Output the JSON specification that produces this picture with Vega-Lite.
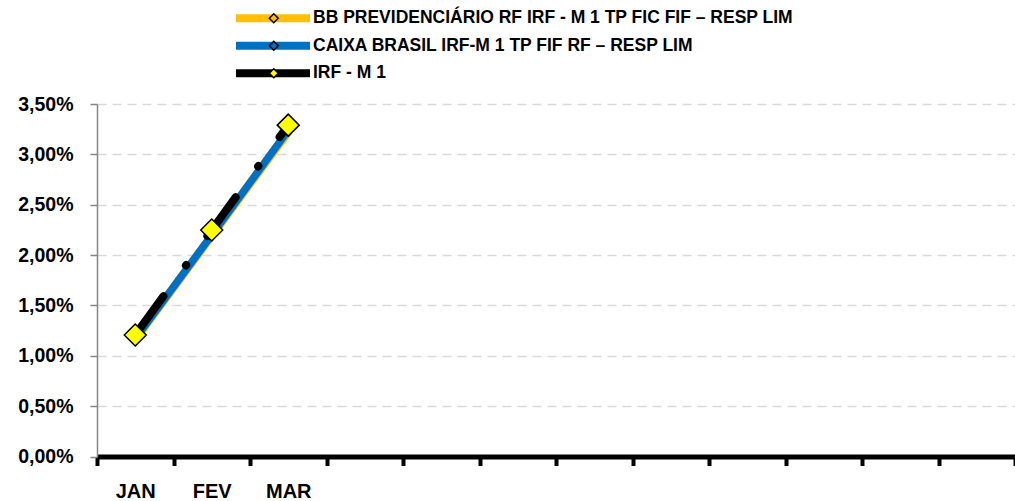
{
  "$schema": "https://vega.github.io/schema/vega-lite/v6.json",
  "autosize": {"type": "none"},
  "width": 918,
  "height": 352.5,
  "padding": {"left": 97, "top": 104, "right": 0, "bottom": 44.5},
  "background": "white",
  "config": {"view": {"stroke": null}, "font": "Liberation Sans"},
  "data": {
    "values": [
      {"serie": "BB PREVIDENCIÁRIO RF IRF - M 1 TP FIC FIF – RESP LIM", "mes": "JAN", "valor": 0.0115},
      {"serie": "BB PREVIDENCIÁRIO RF IRF - M 1 TP FIC FIF – RESP LIM", "mes": "FEV", "valor": 0.0218},
      {"serie": "BB PREVIDENCIÁRIO RF IRF - M 1 TP FIC FIF – RESP LIM", "mes": "MAR", "valor": 0.0321},
      {"serie": "CAIXA BRASIL IRF-M 1 TP FIF RF – RESP LIM", "mes": "JAN", "valor": 0.0117},
      {"serie": "CAIXA BRASIL IRF-M 1 TP FIF RF – RESP LIM", "mes": "FEV", "valor": 0.022},
      {"serie": "CAIXA BRASIL IRF-M 1 TP FIF RF – RESP LIM", "mes": "MAR", "valor": 0.0324},
      {"serie": "IRF - M 1", "mes": "JAN", "valor": 0.01207},
      {"serie": "IRF - M 1", "mes": "FEV", "valor": 0.02249},
      {"serie": "IRF - M 1", "mes": "MAR", "valor": 0.0329}
    ]
  },
  "encoding": {
    "x": {
      "field": "mes",
      "type": "nominal",
      "sort": null,
      "scale": {
        "domain": ["JAN", "FEV", "MAR", "ABR", "MAI", "JUN", "JUL", "AGO", "SET", "OUT", "NOV", "DEZ"],
        "paddingInner": 0,
        "paddingOuter": 0
      },
      "axis": {
        "title": null,
        "tickBand": "extent",
        "labelAngle": 0,
        "labelExpr": "datum.value == 'JAN' || datum.value == 'FEV' || datum.value == 'MAR' ? datum.value : ''",
        "domainColor": "#000000",
        "domainWidth": 5,
        "tickColor": "#000000",
        "tickWidth": 4,
        "tickSize": 9,
        "labelFontSize": 20,
        "labelFontWeight": "bold",
        "labelColor": "#000000",
        "labelPadding": 16,
        "grid": false
      }
    },
    "y": {
      "field": "valor",
      "type": "quantitative",
      "scale": {"domain": [0, 0.035]},
      "axis": {
        "title": null,
        "values": [0, 0.005, 0.01, 0.015, 0.02, 0.025, 0.03, 0.035],
        "labelExpr": "replace(format(datum.value, '.2%'), '.', ',')",
        "domainColor": "#868686",
        "domainWidth": 1.5,
        "tickColor": "#868686",
        "tickWidth": 1.5,
        "tickSize": 7,
        "labelFontSize": 19.5,
        "labelFontWeight": "bold",
        "labelColor": "#000000",
        "labelPadding": 17,
        "grid": true,
        "gridColor": "#d9d9d9",
        "gridDash": [9, 6],
        "gridWidth": 1.5
      }
    }
  },
  "layer": [
    {
      "transform": [{"filter": "datum.serie == 'BB PREVIDENCIÁRIO RF IRF - M 1 TP FIC FIF – RESP LIM'"}],
      "mark": {"type": "line", "strokeWidth": 7, "strokeCap": "round"},
      "encoding": {
        "color": {
          "field": "serie",
          "type": "nominal",
          "scale": {"range": ["#FFC000", "#0070C0", "#000000"]},
          "legend": {
            "orient": "none",
            "legendX": 135,
            "legendY": -95,
            "title": null,
            "symbolType": "stroke",
            "symbolSize": 5476,
            "symbolStrokeWidth": 8,
            "clipHeight": 18.5,
            "labelFontSize": 17.5,
            "labelFontWeight": "bold",
            "labelColor": "#000000",
            "labelOffset": -1,
            "labelLimit": 700,
            "rowPadding": 8.5,
            "padding": 0
          }
        }
      }
    },
    {
      "transform": [{"filter": "datum.serie == 'CAIXA BRASIL IRF-M 1 TP FIF RF – RESP LIM'"}],
      "mark": {"type": "line", "strokeWidth": 7.5, "strokeCap": "round"},
      "encoding": {"color": {"field": "serie", "type": "nominal"}}
    },
    {
      "transform": [{"filter": "datum.serie == 'IRF - M 1'"}],
      "mark": {"type": "line", "strokeWidth": 8, "strokeCap": "round", "strokeDash": [48, 38, 0.5, 36]},
      "encoding": {"color": {"field": "serie", "type": "nominal"}}
    },
    {
      "transform": [{"filter": "datum.serie == 'IRF - M 1'"}],
      "mark": {"type": "point", "shape": "diamond", "filled": true, "size": 484, "stroke": "#000000", "strokeWidth": 1.5, "opacity": 1},
      "encoding": {
        "fill": {
          "field": "serie",
          "type": "nominal",
          "scale": {
            "domain": ["BB PREVIDENCIÁRIO RF IRF - M 1 TP FIC FIF – RESP LIM", "CAIXA BRASIL IRF-M 1 TP FIF RF – RESP LIM", "IRF - M 1"],
            "range": ["#FFC000", "#0070C0", "#FFFF00"]
          },
          "legend": {
            "orient": "none",
            "legendX": 168,
            "legendY": -95,
            "title": null,
            "symbolType": "diamond",
            "symbolSize": 80,
            "symbolStrokeColor": "#000000",
            "symbolStrokeWidth": 1.5,
            "clipHeight": 18.5,
            "labelExpr": "''",
            "labelFontSize": 17.5,
            "labelOffset": 0,
            "rowPadding": 8.5,
            "padding": 0
          }
        }
      }
    }
  ]
}
